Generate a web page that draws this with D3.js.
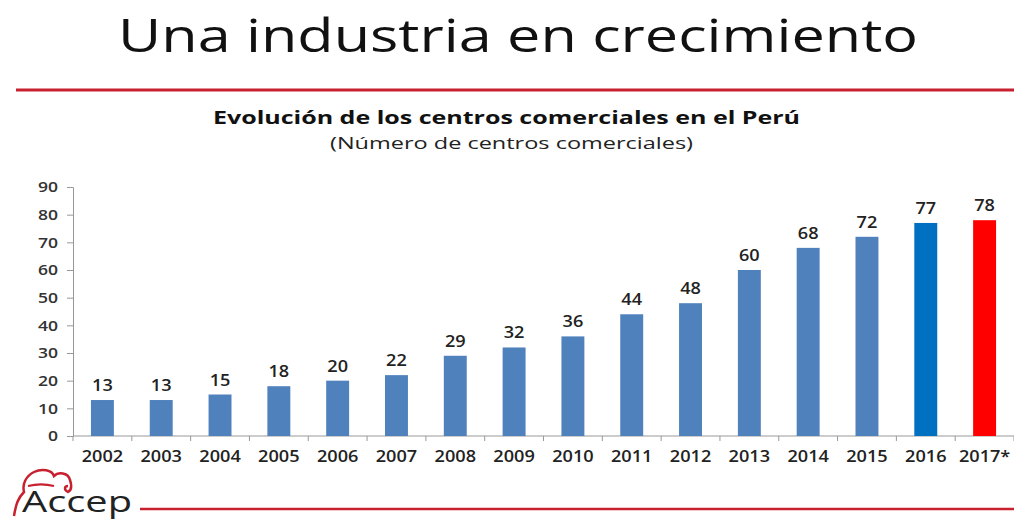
<!DOCTYPE html>
<html>
<head>
<meta charset="utf-8">
<script src="https://cdn.jsdelivr.net/npm/d3@7"></script>
<style>
  html, body { margin: 0; padding: 0; background: #fff; }
  svg { display: block; }
</style>
</head>
<body>
<svg id="chart" width="1014" height="521"></svg>
<script>
// Shopping centres in Peru, by year
const years = ["2002","2003","2004","2005","2006","2007","2008","2009","2010","2011","2012","2013","2014","2015","2016","2017*"];
const centres = [13,13,15,18,20,22,29,32,36,44,48,60,68,72,77,78];
const yTicks = [0,10,20,30,40,50,60,70,80,90];
const barColors = { default: "#4f81bd", "2016": "#0070c0", "2017*": "#ff0000" };

const svg = d3.select("#chart");
const font = "'Open Sans', Lato, sans-serif";
const wide = 1.17; // horizontal stretch applied to the small labels

// Slide heading and rule
svg.append("text")
  .attr("x", 118).attr("y", 52)
  .attr("font-family", font)
  .attr("font-size", 46)
  .attr("fill", "#111")
  .attr("textLength", 800)
  .attr("lengthAdjust", "spacingAndGlyphs")
  .text("Una industria en crecimiento");

svg.append("line")
  .attr("x1", 16).attr("x2", 1014).attr("y1", 90).attr("y2", 90)
  .attr("stroke", "#c8202f").attr("stroke-width", 3);

// Chart titles
svg.append("text")
  .attr("x", 213).attr("y", 124)
  .attr("font-family", font)
  .attr("font-weight", "bold")
  .attr("font-size", 18)
  .attr("fill", "#111")
  .attr("textLength", 587)
  .attr("lengthAdjust", "spacingAndGlyphs")
  .text("Evolución de los centros comerciales en el Perú");

svg.append("text")
  .attr("x", 330).attr("y", 149)
  .attr("font-family", font)
  .attr("font-size", 17)
  .attr("fill", "#222")
  .attr("textLength", 363)
  .attr("lengthAdjust", "spacingAndGlyphs")
  .text("(Número de centros comerciales)");

// Scales
const plotLeft = 73, plotRight = 1014, plotTop = 187, plotBottom = 436;
const x = d3.scaleBand().domain(years).range([plotLeft, plotRight]).paddingInner(0.61).paddingOuter(0.305);
const y = d3.scaleLinear().domain([0, 90]).range([plotBottom, plotTop]);

// Y axis
const yAxis = svg.append("g")
  .attr("transform", `translate(${plotLeft},0)`)
  .call(d3.axisLeft(y).tickValues(yTicks).tickSize(6).tickPadding(9));
yAxis.select(".domain").attr("stroke", "#999");
yAxis.selectAll(".tick line").attr("stroke", "#999");
yAxis.selectAll(".tick text")
  .attr("font-family", font).attr("font-size", 15).attr("font-weight", 600).attr("fill", "#333")
  .attr("x", null)
  .attr("transform", `translate(-15,0) scale(${wide},1)`);

// X axis: tick marks sit between categories
const xAxisG = svg.append("g").attr("transform", `translate(0,${plotBottom})`);
xAxisG.append("line")
  .attr("x1", plotLeft).attr("x2", plotRight)
  .attr("stroke", "#999");
const step = x.step();
xAxisG.selectAll("line.sep")
  .data(d3.range(years.length + 1))
  .join("line")
  .attr("class", "sep")
  .attr("x1", i => plotLeft + i * step).attr("x2", i => plotLeft + i * step)
  .attr("y1", 0).attr("y2", 5)
  .attr("stroke", "#999");
xAxisG.selectAll("text")
  .data(years)
  .join("text")
  .attr("transform", d => `translate(${x(d) + x.bandwidth() / 2},26) scale(${wide},1)`)
  .attr("text-anchor", "middle")
  .attr("font-family", font).attr("font-size", 15.5).attr("font-weight", 600).attr("fill", "#222")
  .text(d => d);

// Bars
const data = years.map((yr, i) => ({ year: yr, value: centres[i] }));
svg.selectAll("rect.bar")
  .data(data)
  .join("rect")
  .attr("class", "bar")
  .attr("x", d => x(d.year))
  .attr("y", d => y(d.value))
  .attr("width", x.bandwidth())
  .attr("height", d => y(0) - y(d.value))
  .attr("fill", d => barColors[d.year] || barColors.default);

// Value labels
svg.selectAll("text.val")
  .data(data)
  .join("text")
  .attr("class", "val")
  .attr("transform", d => `translate(${x(d.year) + x.bandwidth() / 2},${y(d.value) - 9}) scale(${wide},1)`)
  .attr("text-anchor", "middle")
  .attr("font-family", font).attr("font-size", 15.5).attr("font-weight", 600).attr("fill", "#222")
  .text(d => d.value);

// Footer logo and rule
const logo = svg.append("g");
logo.append("path")
  .attr("d", "M14,516 C16,504 18,498 24,492 C22,484 26,476 34,472 C42,468 52,470 54,476 C58,472 68,472 70,480 C72,486 72,490 68,492 C64,490 64,486 68,486")
  .attr("fill", "none").attr("stroke", "#c8202f").attr("stroke-width", 2.5);
logo.append("path")
  .attr("d", "M28,486 C36,484 46,484 54,486")
  .attr("fill", "none").attr("stroke", "#c8202f").attr("stroke-width", 2);
logo.append("text")
  .attr("x", 22).attr("y", 512)
  .attr("font-family", font)
  .attr("font-size", 29)
  .attr("fill", "#222")
  .attr("textLength", 110)
  .attr("lengthAdjust", "spacingAndGlyphs")
  .text("Accep");
svg.append("line")
  .attr("x1", 140).attr("x2", 1014).attr("y1", 509).attr("y2", 509)
  .attr("stroke", "#c8202f").attr("stroke-width", 2.5);
</script>
</body>
</html>
